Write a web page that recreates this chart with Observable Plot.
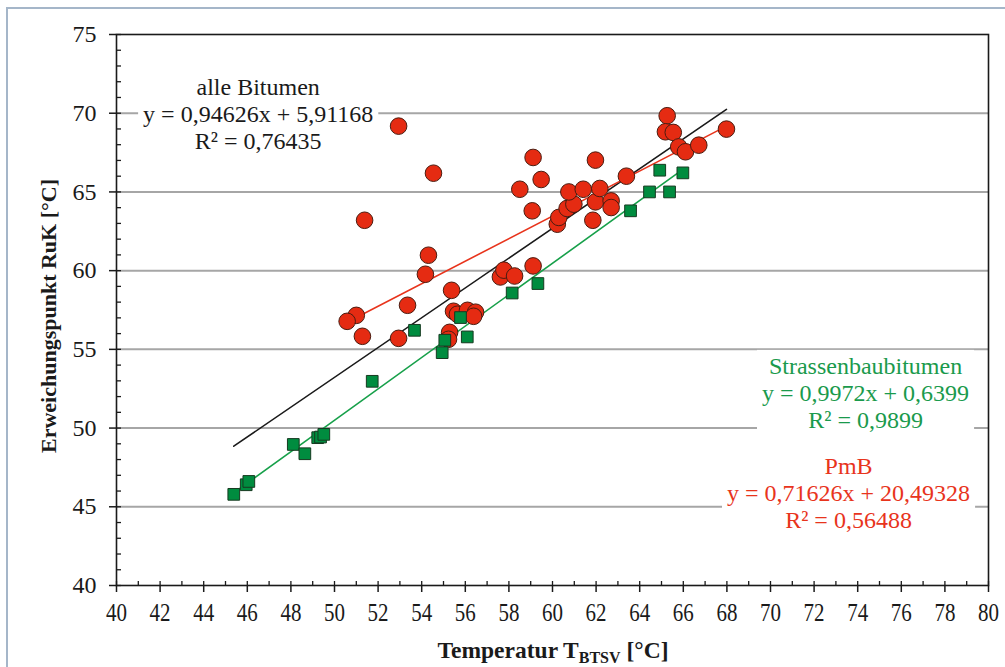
<!DOCTYPE html>
<html><head><meta charset="utf-8">
<script src="https://cdn.jsdelivr.net/npm/d3@7"></script>
<script src="https://cdn.jsdelivr.net/npm/@observablehq/plot@0.6"></script>
<style>
html,body{margin:0;padding:0;background:#fff;}
#chart{position:relative;width:1005px;height:667px;overflow:hidden;}
</style></head><body><div id="chart"></div>
<script>
// PmB (red circles)
const pmbX = [52.94,54.54,51.38,54.31,54.17,55.37,53.35,51.00,50.58,51.28,52.94,55.46,55.64,56.10,56.47,56.38,55.28,55.23,
  57.61,57.77,58.26,59.11,59.07,59.11,59.48,58.50,60.22,60.29,60.67,60.98,60.75,61.41,61.85,61.97,61.97,62.17,62.69,62.69,
  63.39,65.26,65.18,65.54,65.79,66.10,66.71,67.98];
const pmbY = [69.18,66.19,63.20,60.98,59.77,58.75,57.80,57.16,56.78,55.83,55.70,57.42,57.23,57.48,57.36,57.10,56.08,55.64,
  59.60,60.03,59.66,60.30,63.80,67.19,65.79,65.17,62.95,63.38,63.95,64.22,65.00,65.17,63.20,67.02,64.37,65.22,64.43,64.01,
  66.00,69.84,68.82,68.78,67.86,67.55,67.97,68.99];
// Strassenbaubitumen (green squares)
const sbX = [45.38,45.95,46.07,48.11,48.64,49.23,49.36,49.51,51.73,53.67,54.94,55.06,56.09,55.78,58.15,59.33,63.58,64.45,65.37,64.92,65.98];
const sbY = [45.79,46.40,46.61,48.96,48.37,49.39,49.43,49.60,52.97,56.21,54.79,55.58,55.79,57.02,58.58,59.18,63.80,65.00,65.00,66.38,66.21];
// trend lines (end points)
const trendAllX = [45.38, 67.98], trendAllY = [48.85, 70.24];
const trendPmbX = [50.58, 67.98], trendPmbY = [56.72, 69.18];
const trendSbX = [45.38, 65.98], trendSbY = [45.89, 66.43];
// axes
const xTicks = d3.range(40, 81, 2);
const xMinor = d3.range(40, 81, 1);
const yTicks = d3.range(40, 76, 5);
const yMinor = d3.range(40, 76, 1);
const gridValues = [45, 50, 55, 60, 65, 70];
// annotations
const labelText = ["alle Bitumen\ny = 0,94626x + 5,91168\nR² = 0,76435",
  "Strassenbaubitumen\ny = 0,9972x + 0,6399\nR² = 0,9899",
  "PmB\ny = 0,71626x + 20,49328\nR² = 0,56488"];
const labelX = [46.5, 74.36, 73.58];
const labelY = [70.0, 52.27, 45.91];
const labelColor = ["#1a1a1a", "#1a9a4c", "#e8341c"];

const pmb = pmbX.map((x, i) => ({x, y: pmbY[i]}));
const sb = sbX.map((x, i) => ({x, y: sbY[i]}));
const tAll = trendAllX.map((x, i) => ({x, y: trendAllY[i]}));
const tPmb = trendPmbX.map((x, i) => ({x, y: trendPmbY[i]}));
const tSb = trendSbX.map((x, i) => ({x, y: trendSbY[i]}));
const labels = labelText.map((t, i) => ({text: t, x: labelX[i], y: labelY[i], c: labelColor[i]}));

const font = "'Liberation Serif','Times New Roman',serif";
const plot = Plot.plot({
  width: 1005, height: 667,
  marginLeft: 116, marginRight: 17, marginTop: 34, marginBottom: 82,
  x: {domain: [40, 80]},
  y: {domain: [40, 75]},
  style: {fontFamily: font, color: "#1a1a1a", background: "transparent"},
  marks: [
    Plot.gridY(gridValues, {stroke: "#a6a6a6", strokeOpacity: 1, strokeWidth: 2}),
    Plot.text(labels, {x: "x", y: "y", text: "text", fill: "c", fontSize: 24, lineHeight: 1.13,
      lineAnchor: "middle", textAnchor: "middle"}),
    Plot.line(tAll, {x: "x", y: "y", stroke: "#1a1a1a", strokeWidth: 1.6}),
    Plot.line(tPmb, {x: "x", y: "y", stroke: "#e8341c", strokeWidth: 1.6}),
    Plot.line(tSb, {x: "x", y: "y", stroke: "#17a04a", strokeWidth: 1.6}),
    Plot.dot(pmb, {x: "x", y: "y", r: 8.3, symbol: "circle", fill: "#e52b12", stroke: "#4a1c10", strokeWidth: 1}),
    Plot.dot(sb, {x: "x", y: "y", r: 6.6, symbol: "square", fill: "#008c3f", stroke: "#163a20", strokeWidth: 1}),
    Plot.frame({stroke: "#1a1a1a", strokeWidth: 1.6}),
    Plot.axisX({ticks: xTicks, tickSize: 7, tickPadding: 11, fontSize: 25, label: null, strokeWidth: 1.5}),
    Plot.axisX({ticks: xMinor, tickSize: -4, text: null, label: null, strokeWidth: 1.3}),
    Plot.axisY({ticks: yTicks, tickSize: 7, tickPadding: 13, fontSize: 24, label: null, strokeWidth: 1.5}),
    Plot.axisY({ticks: yMinor, tickSize: -5, text: null, label: null, strokeWidth: 1.3})
  ]
});
document.getElementById("chart").appendChild(plot);

const svg = d3.select(plot);
// condensed x tick labels as in the original
svg.selectAll("g[aria-label='x-axis tick label'] text").each(function() {
  const t = this.getAttribute("transform") || "";
  this.setAttribute("transform", t + " scale(0.84,1)");
});
// white boxes behind annotation blocks
svg.selectAll("g[aria-label='text'] text").each(function() {
  const b = this.getBBox();
  const pad = 5;
  d3.select(this.parentNode).insert("rect", () => this)
    .attr("transform", this.getAttribute("transform"))
    .attr("x", b.x - pad).attr("y", b.y - pad + 2)
    .attr("width", b.width + 2 * pad).attr("height", b.height + 2 * pad - 4)
    .attr("fill", "#fff");
});
// outer chart border
svg.append("path").attr("d", "M7,667V8H1005").attr("fill", "none")
  .attr("stroke", "#a5b6c9").attr("stroke-width", 2);
// axis titles
const xl = svg.append("text").attr("x", 553).attr("y", 658).attr("text-anchor", "middle")
  .attr("font-family", font).attr("font-weight", "bold").attr("font-size", 23.5).attr("fill", "#1a1a1a");
xl.append("tspan").text("Temperatur T");
xl.append("tspan").attr("font-size", 16).attr("dy", 5).text("BTSV");
xl.append("tspan").attr("dy", -5).text(" [°C]");
svg.append("text").attr("transform", "translate(56,316) rotate(-90)").attr("text-anchor", "middle")
  .attr("font-family", font).attr("font-weight", "bold").attr("font-size", 22).attr("fill", "#1a1a1a")
  .text("Erweichungspunkt RuK [°C]");
</script></body></html>
